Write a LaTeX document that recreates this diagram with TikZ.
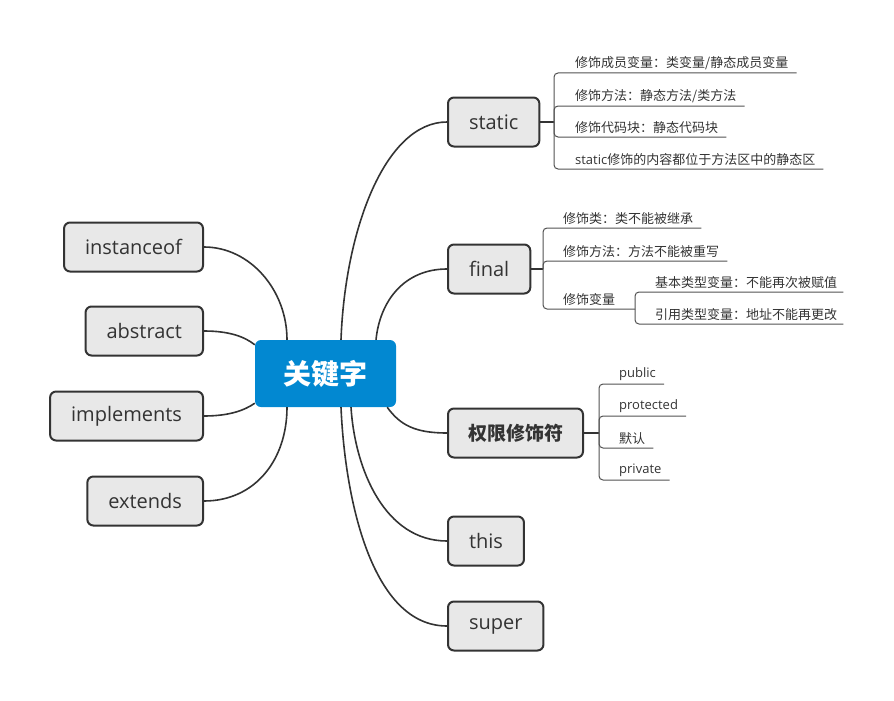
\documentclass[tikz,border=0pt]{standalone}
\usepackage{fontspec}
\usepackage{tikz}
\setmainfont{Open Sans}
\newfontfamily\cjk{Noto Sans CJK SC}
\newfontfamily\lat{Open Sans}
\usetikzlibrary{calc}
\definecolor{txt}{RGB}{51,51,51}
\definecolor{boxfill}{RGB}{232,232,232}
\definecolor{rootblue}{RGB}{2,136,209}
\tikzstyle{every node}=[text=txt]
\tikzstyle{topic}=[draw=txt, fill=boxfill, line width=2pt, rounded corners=6pt, minimum height=49pt, inner xsep=21pt, font=\fontsize{20}{24}\selectfont]
\tikzstyle{root}=[fill=rootblue, rounded corners=6pt, minimum width=141pt, minimum height=67pt, text=white, font=\cjk\bfseries\fontsize{28}{32}\selectfont]
\tikzstyle{leaf}=[anchor=south west, inner xsep=0pt, inner ysep=3pt, font=\cjk\fontsize{13}{15}\selectfont]
\tikzstyle{branch}=[draw=txt, line width=1.6pt]
\tikzstyle{twig}=[draw=txt!85, line width=1pt, rounded corners=4pt]

\begin{document}
\begin{tikzpicture}[x=1pt,y=-1pt]
            \useasboundingbox (0,0) rectangle (894,701);

            \node[root] (kw) at (325.5,373.5) {关键字};

            \node[topic, anchor=east] (instanceof) at (204,247) {instanceof};
            \node[topic, anchor=east] (abstract) at (204,331) {abstract};
            \node[topic, anchor=east] (implements) at (204,416) {implements};
            \node[topic, anchor=east] (extends) at (204,501) {extends};

            \node[topic, anchor=west] (static) at (447,122) {static};
            \node[topic, anchor=west] (final) at (447,269) {final};
            \node[topic, anchor=west, inner xsep=20pt, font=\cjk\bfseries\fontsize{19}{22}\selectfont] (access) at (447,433) {权限修饰符};
            \node[topic, anchor=west] (this) at (447,541) {this};
            \node[topic, anchor=west] (super) at (447,626) {super};

            \draw[branch] (instanceof.east) .. controls (250,247) and (287,290) .. ($(kw.north)+(-38.5,0)$);
            \draw[branch] (abstract.east) .. controls (230,331) and (245,337) .. ($(kw.north west)+(0,5)$);
            \draw[branch] (implements.east) .. controls (230,416) and (245,410) .. ($(kw.south west)+(0,-4)$);
            \draw[branch] (extends.east) .. controls (255,501) and (287,460) .. ($(kw.south)+(-38.5,0)$);

            \draw[branch] (static.west) .. controls (385,122) and (345,230) .. ($(kw.north)+(15.5,0)$);
            \draw[branch] (final.west) .. controls (405,269) and (380,300) .. ($(kw.north)+(50.5,0)$);
            \draw[branch] (access.west) .. controls (415,433) and (400,425) .. ($(kw.south east)+(-9,0)$);
            \draw[branch] (this.west) .. controls (385,541) and (355,470) .. ($(kw.south)+(25.5,0)$);
            \draw[branch] (super.west) .. controls (372,626) and (345,500) .. ($(kw.south)+(15.5,0)$);

            \coordinate (sb) at (554,122);
            \coordinate (fb) at (543,269);
            \coordinate (vb) at (635,309);
            \coordinate (ab) at (599,433);

            \node[leaf] (s1) at (575,73) {修饰成员变量：类变量/静态成员变量};
            \node[leaf] (s2) at (575,106) {修饰方法：静态方法/类方法};
            \node[leaf] (s3) at (575,137) {修饰代码块：静态代码块};
            \node[leaf] (s4) at (575,169) {{\lat static}修饰的内容都位于方法区中的静态区};

            \node[leaf] (f1) at (563,228) {修饰类：类不能被继承};
            \node[leaf] (f2) at (563,261) {修饰方法：方法不能被重写};
            \node[leaf] (f3) at (563,309) {修饰变量};
            \node[leaf] (v1) at (655,292) {基本类型变量：不能再次被赋值};
            \node[leaf] (v2) at (655,324) {引用类型变量：地址不能再更改};

            \node[leaf] (a1) at (619,384) {\lat public};
            \node[leaf] (a2) at (619,416) {\lat protected};
            \node[leaf] (a3) at (619,448) {默认};
            \node[leaf] (a4) at (619,480) {\lat private};

            \draw[branch, line width=1.2pt] (static.east) -- (sb);
            \draw[branch, line width=1.2pt] (final.east) -- (fb);
            \draw[branch, line width=1.2pt] (access.east) -- (ab);

            \foreach \n in {s1,s2,s3,s4} \draw[twig] (sb) |- ($(\n.south east)+(8,0)$);
            \foreach \n in {f1,f2} \draw[twig] (fb) |- ($(\n.south east)+(8,0)$);
            \draw[twig] (fb) |- (vb);
            \foreach \n in {v1,v2} \draw[twig] (vb) |- ($(\n.south east)+(6,0)$);
            \foreach \n in {a1,a2,a3,a4} \draw[twig] (ab) |- ($(\n.south east)+(8,0)$);
        \end{tikzpicture}
\end{document}
